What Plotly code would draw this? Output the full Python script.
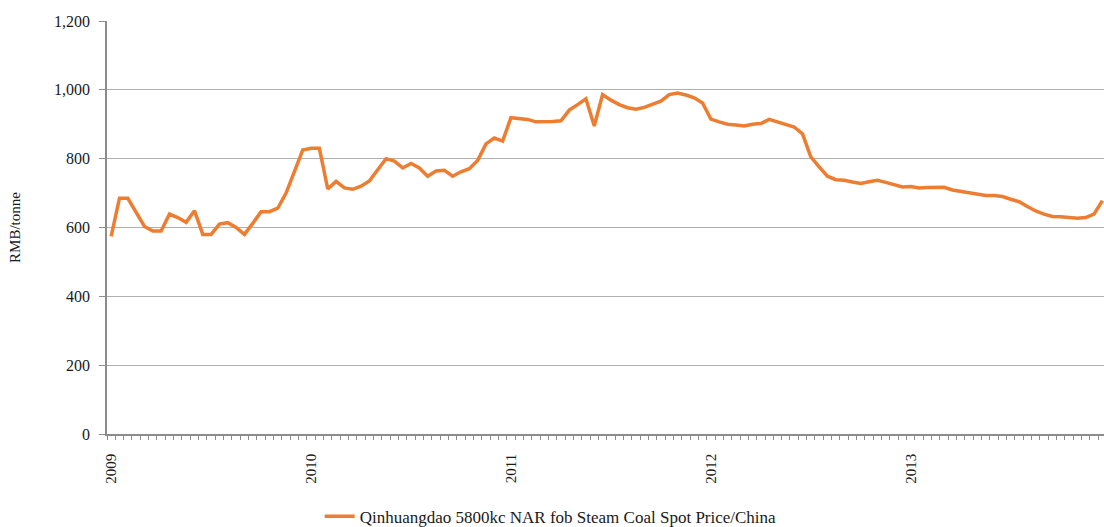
import plotly.graph_objects as go

years = [2009, 2010, 2011, 2012, 2013]
periods_per_year = 24  # semi-monthly observations

price_2009 = [574, 685, 685, 646, 603, 590, 590, 639, 629, 615, 649, 580,
              580, 610, 614, 600, 580, 612, 646, 646, 656, 700, 762, 825]
price_2010 = [830, 830, 712, 734, 715, 711, 720, 735, 768, 800, 793, 773,
              786, 773, 749, 764, 766, 749, 762, 771, 795, 843, 860, 851]
price_2011 = [919, 916, 914, 907, 907, 908, 910, 941, 957, 974, 895, 986,
              970, 957, 948, 944, 949, 957, 967, 986, 991, 985, 977, 962]
price_2012 = [915, 907, 900, 898, 895, 900, 902, 914, 907, 899, 892, 872,
              805, 776, 749, 739, 737, 732, 728, 733, 737, 731, 724, 718]
price_2013 = [719, 715, 716, 717, 717, 709, 705, 700, 698, 693, 693, 690,
              682, 675, 661, 648, 639, 632, 631, 630, 627, 629, 639, 678]

series_name = "Qinhuangdao 5800kc NAR fob Steam Coal Spot Price/China"
y_title = "RMB/tonne"
y_ticks = [0, 200, 400, 600, 800, 1000, 1200]

prices = price_2009 + price_2010 + price_2011 + price_2012 + price_2013
x = list(range(len(prices)))

fig = go.Figure()
fig.add_trace(go.Scatter(
    x=x, y=prices, mode="lines", name=series_name,
    line=dict(color="#ED7D31", width=3.5),
    showlegend=True,
))

font_family = "Liberation Serif, Times New Roman, serif"
txt = "#1a1a1a"

fig.update_layout(
    width=1104, height=527,
    margin=dict(l=107, r=0, t=21, b=93, autoexpand=False),
    plot_bgcolor="white", paper_bgcolor="white",
    font=dict(family=font_family, size=16, color=txt),
    showlegend=True,
    legend=dict(orientation="h", x=0.445, xanchor="center", y=-0.2, yanchor="middle",
                font=dict(family=font_family, size=17, color=txt)),
    xaxis=dict(
        automargin=False,
        range=[-0.5, 119.2],
        tickmode="array",
        tickvals=[i * periods_per_year for i in range(len(years))],
        ticktext=[str(yv) for yv in years],
        tickangle=-90,
        ticks="",
        ticklabelstandoff=12,
        showgrid=False,
        showline=True, linecolor="#8C8C8C", linewidth=1.5,
        tickfont=dict(family=font_family, size=15, color=txt),
        minor=dict(tickmode="array",
                   tickvals=[k - 0.5 for k in range(len(prices) + 1)],
                   ticks="outside", ticklen=4, tickcolor="#8C8C8C", showgrid=False),
        zeroline=False,
    ),
    yaxis=dict(
        automargin=False,
        range=[0, 1200],
        tickmode="array", tickvals=y_ticks,
        tickformat=",",
        ticks="outside", ticklen=6, tickcolor="#8C8C8C",
        ticklabelstandoff=6,
        showgrid=True, gridcolor="#B0B0B0", gridwidth=1,
        showline=True, linecolor="#8C8C8C", linewidth=1.5,
        zeroline=False,
        title=dict(text=y_title, font=dict(family=font_family, size=15, color=txt), standoff=30),
        tickfont=dict(family=font_family, size=16, color=txt),
    ),
)

fig.write_html(
    "out.html",
    config={"displayModeBar": False},
    post_script="document.body.style.margin='0';document.body.style.padding='0';document.body.style.overflow='hidden';",
)
